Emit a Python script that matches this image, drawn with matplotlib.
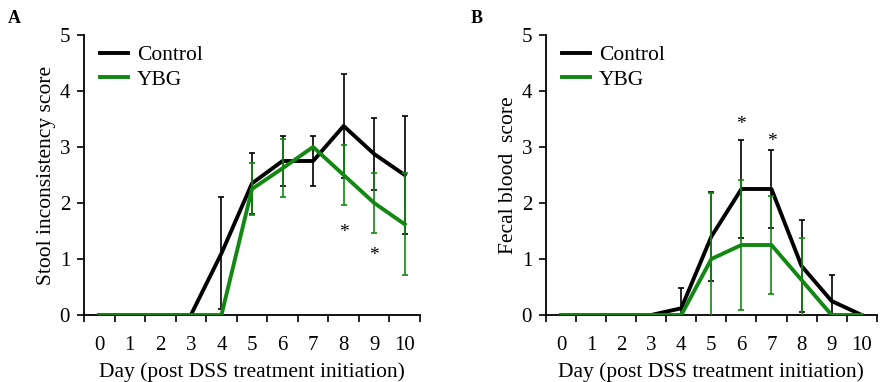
import matplotlib.pyplot as plt
import numpy as np

plt.rcParams['font.family'] = ['Liberation Serif', 'DejaVu Serif']

days = np.arange(11)

# panel A - stool inconsistency
stool_ctrl = [0, 0, 0, 0, 1.1, 2.35, 2.75, 2.75, 3.375, 2.875, 2.5]
stool_ctrl_err = [0, 0, 0, 0, 1.0, 0.55, 0.45, 0.45, 0.92, 0.64, 1.06]
stool_ybg = [0, 0, 0, 0, 0, 2.25, 2.62, 3.0, 2.5, 2.0, 1.62]
stool_ybg_err = [0, 0, 0, 0, 0, 0.46, 0.52, 0, 0.54, 0.54, 0.91]
stool_stars = [(8, 1.47), (9, 1.06)]

# panel B - fecal blood
blood_ctrl = [0, 0, 0, 0, 0.12, 1.4, 2.25, 2.25, 0.875, 0.25, 0]
blood_ctrl_err = [0, 0, 0, 0, 0.36, 0.8, 0.88, 0.7, 0.82, 0.46, 0]
blood_ybg = [0, 0, 0, 0, 0, 1.0, 1.25, 1.25, 0.625, 0, 0]
blood_ybg_err = [0, 0, 0, 0, 0, 1.18, 1.16, 0.87, 0.75, 0, 0]
blood_stars = [(6, 3.41), (7, 3.1)]

green = '#118811'

fig = plt.figure(figsize=(8.82, 3.82), dpi=100)
ax_a = fig.add_axes([0.0952, 0.1754, 0.381, 0.733])
ax_b = fig.add_axes([0.619, 0.1754, 0.375, 0.733])


def draw(ax, ctrl, ctrl_err, ybg, ybg_err, stars, ylabel, tag):
    ctrl_err = np.array(ctrl_err)
    ybg_err = np.array(ybg_err)
    ax.plot(days, ctrl, color='black', lw=2.8, label='Control', zorder=3)
    ax.plot(days, ybg, color=green, lw=2.8, label='YBG', zorder=4)
    m = ctrl_err > 0
    ax.errorbar(days[m], np.array(ctrl)[m], yerr=ctrl_err[m], fmt='none',
                ecolor='black', elinewidth=1.2, capsize=2.5, capthick=1.2, zorder=2)
    m = ybg_err > 0
    ax.errorbar(days[m], np.array(ybg)[m], yerr=ybg_err[m], fmt='none',
                ecolor=green, elinewidth=1.2, capsize=2.5, capthick=1.2, zorder=5)
    for x, y in stars:
        ax.text(x, y, '*', ha='center', va='center', fontsize=14)
    ax.set_xlim(-0.5, 10.5)
    ax.set_ylim(0, 5)
    ax.set_xticks(days)
    ax.set_xticks(np.arange(-0.5, 11, 1), minor=True)
    ax.tick_params(axis='x', which='major', length=0, labelsize=15, pad=15)
    ax.tick_params(axis='x', which='minor', length=5, width=1.2, direction='out')
    ax.set_yticks(range(6))
    ax.tick_params(axis='y', length=5, width=1.2, labelsize=15, pad=5)
    for s in ['top', 'right']:
        ax.spines[s].set_visible(False)
    for s in ['left', 'bottom']:
        ax.spines[s].set_linewidth(1.3)
    ax.set_xlabel('Day (post DSS treatment initiation)', fontsize=15.5, labelpad=5.5)
    ax.set_ylabel(ylabel, fontsize=15.5, labelpad=2.5)
    ax.legend(loc='upper left', frameon=False, fontsize=15.5, handlelength=1.3,
              handletextpad=0.4, borderaxespad=0.2, labelspacing=0.2,
              bbox_to_anchor=(0.01, 1.01))
    ax.text(-0.228, 1.028, tag, transform=ax.transAxes, fontsize=13,
            fontweight='bold', ha='left', va='bottom')


draw(ax_a, stool_ctrl, stool_ctrl_err, stool_ybg, stool_ybg_err, stool_stars,
     'Stool inconsistency score', 'A')
draw(ax_b, blood_ctrl, blood_ctrl_err, blood_ybg, blood_ybg_err, blood_stars,
     'Fecal blood  score', 'B')

fig.savefig('out.png', dpi=100)
